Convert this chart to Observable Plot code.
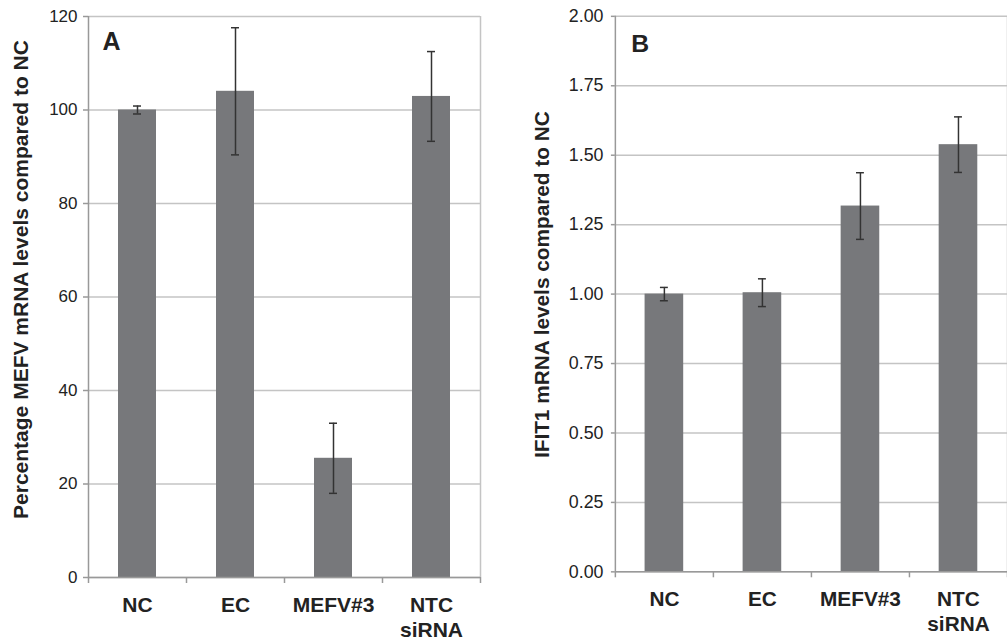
<!DOCTYPE html>
<html>
<head>
<meta charset="utf-8">
<script src="https://cdn.jsdelivr.net/npm/d3@7"></script>
<script src="https://cdn.jsdelivr.net/npm/@observablehq/plot@0.6"></script>
<style>
  html, body { margin: 0; padding: 0; background: #fff; }
  #wrap { position: relative; width: 1007px; height: 637px; overflow: hidden; }
  #wrap > div { position: absolute; top: 0; }
</style>
</head>
<body>
<div id="wrap"><div id="pa" style="left:0"></div><div id="pb" style="left:500px"></div></div>
<script>
const categories = ["NC", "EC", "MEFV#3", "NTC\nsiRNA"];
const mefvValues = [100, 104.0, 25.5, 102.9];
const mefvErrors = [0.85, 13.6, 7.5, 9.6];
const ifit1Values = [1.000, 1.005, 1.317, 1.538];
const ifit1Errors = [0.024, 0.05, 0.12, 0.10];
const mefvTicks = [0, 20, 40, 60, 80, 100, 120];
const ifit1Ticks = [0, 0.25, 0.5, 0.75, 1.0, 1.25, 1.5, 1.75, 2.0];

const FONT = "'Liberation Sans', Arial, Helvetica, sans-serif";

function panel(o) {
  const data = categories.map((c, i) => ({cat: c, v: o.values[i], e: o.errors[i]}));
  const height = 637, marginTop = 16, marginBottom = 60;
  const bw = (o.width - o.marginLeft - o.marginRight) / categories.length;
  return Plot.plot({
    width: o.width,
    height,
    marginLeft: o.marginLeft,
    marginRight: o.marginRight,
    marginTop,
    marginBottom,
    style: {fontFamily: FONT, background: "transparent", color: "#222"},
    x: {domain: categories, padding: 0, axis: null},
    y: {domain: o.domain, axis: null},
    marks: [
      Plot.gridY(o.ticks, {stroke: "#c4c4c4", strokeOpacity: 1, strokeWidth: 1.5}),
      Plot.ruleX([categories[categories.length - 1]], {dx: bw / 2, stroke: "#c4c4c4", strokeWidth: 1.5}),
      Plot.barY(data, {x: "cat", y: "v", fill: "#77787b", insetLeft: 30, insetRight: 30}),
      Plot.ruleX(data, {x: "cat", y1: d => d.v - d.e, y2: d => d.v + d.e, stroke: "#333", strokeWidth: 1.5}),
      Plot.tickY(data, {x: "cat", y: d => d.v + d.e, stroke: "#333", strokeWidth: 1.5, insetLeft: bw / 2 - 4, insetRight: bw / 2 - 4}),
      Plot.tickY(data, {x: "cat", y: d => d.v - d.e, stroke: "#333", strokeWidth: 1.5, insetLeft: bw / 2 - 4, insetRight: bw / 2 - 4}),
      Plot.ruleY([0], {stroke: "#999", strokeWidth: 1.5}),
      Plot.ruleX([categories[0]], {dx: -bw / 2, stroke: "#999", strokeWidth: 1.5}),
      Plot.axisY(o.ticks, {
        tickSize: o.tickSize, tickPadding: o.tickPadding, stroke: "#999", strokeWidth: 1.5,
        tickFormat: o.fmt, fontSize: o.tickFont, fill: "#222", label: null
      }),
      Plot.axisX(categories, {
        tickSize: 6, dx: -bw / 2, stroke: "#999", strokeWidth: 1.5, tickFormat: () => "", label: null
      }),
      Plot.axisX([categories[categories.length - 1]], {
        tickSize: 6, dx: bw / 2, stroke: "#999", strokeWidth: 1.5, tickFormat: () => "", label: null
      }),
      Plot.axisX(categories, {
        tickSize: 0, tickPadding: 16, fontSize: 21, fontWeight: "bold", fill: "#222",
        lineHeight: 1.22, label: null
      }),
      Plot.text([o.letter], {
        frameAnchor: "top-left", dx: o.letterDx, dy: o.letterDy, lineAnchor: "bottom",
        textAnchor: "start", fontSize: 25, fontWeight: "bold", fill: "#222"
      }),
      Plot.text([o.title], {
        frameAnchor: "left", dx: o.titleDx, dy: o.titleDy, rotate: -90,
        textAnchor: "middle", fontSize: 21, fontWeight: "bold", fill: "#222"
      })
    ]
  });
}

document.getElementById("pa").append(panel({
  values: mefvValues, errors: mefvErrors, ticks: mefvTicks, domain: [0, 120],
  fmt: d => String(d), title: "Percentage MEFV mRNA levels compared to NC", letter: "A",
  width: 500, marginLeft: 88, marginRight: 20, tickSize: 5, tickPadding: 6, tickFont: 17,
  letterDx: 14, letterDy: 33, titleDx: -67.5, titleDy: -17.5
}));

document.getElementById("pb").append(panel({
  values: ifit1Values, errors: ifit1Errors, ticks: ifit1Ticks, domain: [0, 2],
  fmt: d3.format(".2f"), title: "IFIT1 mRNA levels compared to NC", letter: "B",
  width: 512, marginLeft: 116, marginRight: 0, tickSize: 4, tickPadding: 8, tickFont: 18,
  letterDx: 16, letterDy: 36, titleDx: -74, titleDy: -9.5
}));
</script>
</body>
</html>
